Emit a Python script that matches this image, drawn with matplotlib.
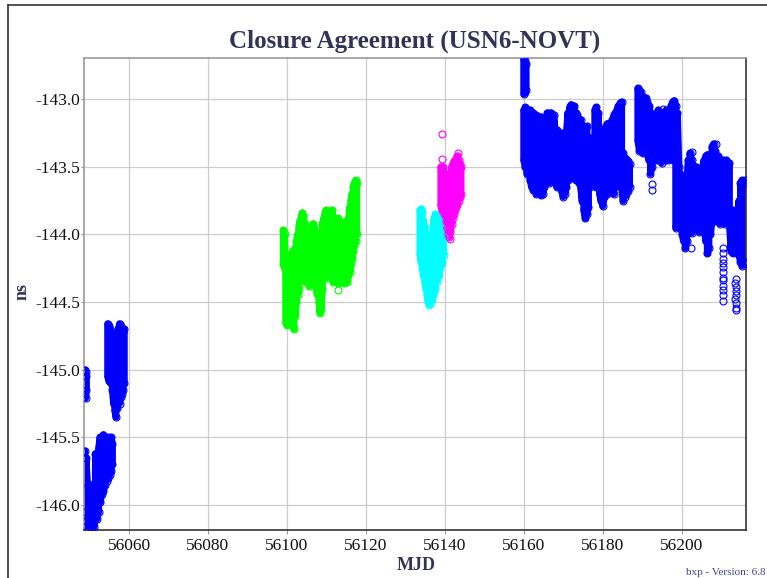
import matplotlib.pyplot as plt
from matplotlib.lines import Line2D

plt.rcParams['font.family'] = ['Liberation Serif', 'DejaVu Serif']
plt.rcParams['axes.unicode_minus'] = False

# ---- data (MJD, upper and lower edge of each daily swing, ns)

# blue, first days (left edge strip)
blue1a_mjd = [56048.8, 56049.0, 56049.2]
blue1a_top = [-145.00, -145.02, -145.05]
blue1a_bot = [-145.18, -145.21, -145.15]

# blue, first days (lower mass)
blue1b_mjd = [56048.8, 56049.1, 56049.5, 56049.9, 56050.3, 56050.7, 56051.1, 56051.5, 56051.9, 56052.3,
              56052.7, 56053.1, 56053.5, 56053.9, 56054.3, 56054.7, 56055.1, 56055.5, 56055.8]
blue1b_top = [-145.60, -145.65, -145.85, -145.90, -145.85, -145.95, -145.90, -145.62, -145.80, -145.58,
              -145.50, -145.52, -145.48, -145.50, -145.52, -145.50, -145.55, -145.50, -145.55]
blue1b_bot = [-146.05, -146.12, -146.18, -146.15, -146.18, -146.17, -146.16, -146.10, -146.10, -146.05,
              -145.98, -145.92, -145.90, -145.85, -145.82, -145.80, -145.78, -145.75, -145.70]

# blue, first days (upper mass)
blue1c_mjd = [56054.6, 56054.9, 56055.2, 56055.5, 56055.8, 56056.1, 56056.4, 56056.7, 56057.0, 56057.3,
              56057.6, 56057.9, 56058.2, 56058.5, 56058.8]
blue1c_top = [-144.66, -144.68, -144.70, -144.72, -144.80, -144.88, -144.92, -144.95, -144.85, -144.70,
              -144.66, -144.68, -144.70, -144.72, -144.70]
blue1c_bot = [-145.05, -145.08, -145.05, -145.10, -145.15, -145.25, -145.30, -145.35, -145.28, -145.22,
              -145.25, -145.20, -145.18, -145.15, -145.10]

# green
green_mjd = [56099.1, 56099.4, 56099.7, 56100.0, 56100.3, 56100.6, 56100.9, 56101.2, 56101.5, 56101.8,
             56102.1, 56102.4, 56102.7, 56103.0, 56103.3, 56103.6, 56103.9, 56104.2, 56104.5, 56104.8,
             56105.1, 56105.4, 56105.7, 56106.0, 56106.3, 56106.6, 56106.9, 56107.2, 56107.5, 56107.8,
             56108.1, 56108.4, 56108.7, 56109.0, 56109.3, 56109.6, 56109.9, 56110.2, 56110.5, 56110.8,
             56111.1, 56111.4, 56111.7, 56112.0, 56112.3, 56112.6, 56112.9, 56113.2, 56113.5, 56113.8,
             56114.1, 56114.4, 56114.7, 56115.0, 56115.3, 56115.6, 56115.9, 56116.2, 56116.5, 56116.8,
             56117.1, 56117.4, 56117.7]
green_top = [-143.97, -144.00, -144.30, -144.28, -144.25, -144.30, -144.20, -144.15, -144.12, -144.15,
             -144.10, -144.05, -144.00, -143.95, -143.90, -143.88, -143.84, -143.86, -143.92, -143.95,
             -143.98, -144.05, -144.10, -144.08, -143.95, -143.92, -143.95, -143.98, -144.00, -144.05,
             -144.10, -144.15, -144.10, -143.92, -143.88, -143.85, -143.82, -143.88, -143.90, -143.95,
             -143.85, -143.82, -143.90, -144.00, -143.95, -143.90, -143.88, -143.90, -143.95, -144.00,
             -143.95, -143.98, -143.92, -143.90, -143.95, -143.90, -143.80, -143.75, -143.70, -143.65,
             -143.62, -143.60, -143.62]
green_bot = [-144.22, -144.25, -144.65, -144.67, -144.60, -144.62, -144.55, -144.60, -144.68, -144.70,
             -144.60, -144.50, -144.45, -144.40, -144.35, -144.30, -144.25, -144.28, -144.30, -144.35,
             -144.32, -144.30, -144.38, -144.30, -144.28, -144.35, -144.32, -144.38, -144.42, -144.45,
             -144.50, -144.58, -144.55, -144.40, -144.30, -144.25, -144.30, -144.32, -144.28, -144.25,
             -144.30, -144.30, -144.35, -144.30, -144.32, -144.35, -144.36, -144.30, -144.35, -144.30,
             -144.35, -144.36, -144.30, -144.34, -144.35, -144.30, -144.28, -144.22, -144.18, -144.12,
             -144.08, -144.05, -144.00]
green_out_mjd = [56113.0]
green_out_ns = [-144.41]

# cyan
cyan_mjd = [56133.7, 56134.0, 56134.3, 56134.6, 56134.9, 56135.2, 56135.5, 56135.8, 56136.1, 56136.4,
            56136.7, 56137.0, 56137.3, 56137.6, 56137.9, 56138.2, 56138.5, 56138.8, 56139.1, 56139.4, 56139.7]
cyan_top = [-143.82, -143.81, -143.83, -143.90, -143.95, -144.00, -144.05, -144.10, -144.15, -144.10,
            -144.05, -143.95, -143.88, -143.85, -143.86, -143.88, -143.90, -143.92, -143.95, -144.00, -144.02]
cyan_bot = [-144.15, -144.20, -144.25, -144.30, -144.35, -144.40, -144.45, -144.50, -144.52, -144.50,
            -144.48, -144.45, -144.42, -144.40, -144.35, -144.30, -144.30, -144.25, -144.22, -144.20, -144.15]

# magenta
mag_mjd = [56139.0, 56139.3, 56139.6, 56139.9, 56140.2, 56140.5, 56140.8, 56141.1, 56141.4, 56141.7,
           56142.0, 56142.3, 56142.6, 56142.9, 56143.2, 56143.5, 56143.8, 56144.1]
mag_top = [-143.50, -143.52, -143.50, -143.55, -143.55, -143.58, -143.60, -143.60, -143.55, -143.50,
           -143.48, -143.46, -143.45, -143.44, -143.42, -143.45, -143.48, -143.50]
mag_bot = [-143.78, -143.82, -143.80, -143.85, -143.90, -143.95, -144.00, -144.02, -143.98, -143.92,
           -143.88, -143.85, -143.82, -143.80, -143.78, -143.75, -143.72, -143.70]
mag_out_mjd = [56139.4, 56139.4, 56143.4, 56141.3]
mag_out_ns = [-143.26, -143.44, -143.40, -144.03]

# blue, later days (short high column)
blue2a_mjd = [56160.0, 56160.3, 56160.6]
blue2a_top = [-142.70, -142.72, -142.74]
blue2a_bot = [-142.96, -142.95, -142.93]

# blue, later days (first block)
blue2b_mjd = [56160.0, 56160.4, 56160.8, 56161.2, 56161.6, 56162.0, 56162.4, 56162.8, 56163.2, 56163.6,
              56164.0, 56164.4, 56164.8, 56165.2, 56165.6, 56166.0, 56166.4, 56166.8, 56167.2, 56167.6,
              56168.0, 56168.4, 56168.8, 56169.2, 56169.6, 56170.0, 56170.4, 56170.8, 56171.2, 56171.6,
              56172.0, 56172.4, 56172.8, 56173.2, 56173.6, 56174.0, 56174.4, 56174.8, 56175.2, 56175.6,
              56176.0, 56176.4, 56176.8, 56177.2, 56177.6, 56178.0, 56178.4, 56178.8, 56179.2, 56179.6,
              56180.0, 56180.4, 56180.8, 56181.2, 56181.6, 56182.0, 56182.4, 56182.8, 56183.2, 56183.6,
              56184.0, 56184.4, 56184.8, 56185.2, 56185.6, 56186.0, 56186.4, 56186.8]
blue2b_top = [-143.08, -143.06, -143.10, -143.12, -143.08, -143.15, -143.10, -143.15, -143.12, -143.20,
              -143.14, -143.13, -143.20, -143.15, -143.22, -143.10, -143.12, -143.10, -143.15, -143.12,
              -143.25, -143.23, -143.28, -143.30, -143.25, -143.28, -143.30, -143.25, -143.10, -143.06,
              -143.04, -143.08, -143.05, -143.10, -143.12, -143.18, -143.15, -143.20, -143.22, -143.25,
              -143.20, -143.28, -143.30, -143.32, -143.30, -143.08, -143.06, -143.10, -143.30, -143.36,
              -143.38, -143.35, -143.20, -143.18, -143.22, -143.20, -143.15, -143.12, -143.10, -143.08,
              -143.05, -143.03, -143.02, -143.40, -143.45, -143.44, -143.46, -143.48]
blue2b_bot = [-143.45, -143.50, -143.55, -143.50, -143.60, -143.65, -143.67, -143.62, -143.70, -143.65,
              -143.68, -143.71, -143.70, -143.65, -143.60, -143.58, -143.62, -143.55, -143.60, -143.58,
              -143.62, -143.65, -143.60, -143.63, -143.68, -143.72, -143.70, -143.65, -143.60, -143.55,
              -143.58, -143.52, -143.55, -143.60, -143.55, -143.62, -143.65, -143.75, -143.82, -143.88,
              -143.85, -143.80, -143.65, -143.62, -143.60, -143.62, -143.65, -143.58, -143.70, -143.75,
              -143.79, -143.72, -143.68, -143.70, -143.65, -143.60, -143.62, -143.70, -143.65, -143.60,
              -143.58, -143.60, -143.65, -143.75, -143.72, -143.70, -143.68, -143.65]

# blue, later days (second block)
blue2c_mjd = [56188.9, 56189.3, 56189.7, 56190.1, 56190.5, 56190.9, 56191.3, 56191.7, 56192.1, 56192.5,
              56192.9, 56193.3, 56193.7, 56194.1, 56194.5, 56194.9, 56195.3, 56195.7, 56196.1, 56196.5,
              56196.9, 56197.3, 56197.7, 56198.1, 56198.5, 56198.9, 56199.3, 56199.7, 56200.1, 56200.5,
              56200.9, 56201.3, 56201.7, 56202.1, 56202.5, 56202.9, 56203.3, 56203.7, 56204.1, 56204.5,
              56204.9, 56205.3, 56205.7, 56206.1, 56206.5, 56206.9, 56207.3, 56207.7, 56208.1, 56208.5,
              56208.9, 56209.3, 56209.7, 56210.1, 56210.5, 56210.9, 56211.3, 56211.7, 56212.1, 56212.5,
              56212.9, 56213.3, 56213.7, 56214.1, 56214.5, 56214.9, 56215.3, 56215.7, 56216.1]
blue2c_top = [-142.92, -142.93, -142.95, -142.98, -143.00, -142.99, -143.02, -143.05, -143.10, -143.15,
              -143.20, -143.15, -143.10, -143.08, -143.10, -143.12, -143.10, -143.13, -143.08, -143.12,
              -143.10, -143.05, -143.02, -143.01, -143.05, -143.10, -143.50, -143.55, -143.60, -143.65,
              -143.70, -143.62, -143.45, -143.40, -143.45, -143.50, -143.55, -143.50, -143.58, -143.60,
              -143.55, -143.50, -143.45, -143.42, -143.41, -143.45, -143.50, -143.35, -143.33, -143.38,
              -143.45, -143.42, -143.45, -143.47, -143.45, -143.50, -143.45, -143.50, -143.47, -143.85,
              -143.82, -143.85, -143.88, -143.90, -143.75, -143.62, -143.60, -143.62, -143.60]
blue2c_bot = [-143.30, -143.38, -143.35, -143.40, -143.38, -143.35, -143.40, -143.45, -143.55, -143.50,
              -143.45, -143.40, -143.45, -143.42, -143.45, -143.47, -143.44, -143.45, -143.40, -143.45,
              -143.42, -143.40, -143.45, -143.45, -143.95, -143.92, -143.90, -143.95, -144.00, -144.05,
              -144.10, -144.05, -143.98, -143.95, -143.99, -143.95, -143.90, -143.95, -143.92, -143.98,
              -143.95, -143.90, -143.95, -144.05, -144.14, -144.10, -144.00, -143.90, -143.85, -143.90,
              -143.88, -143.90, -143.92, -143.88, -143.90, -143.92, -143.88, -143.90, -143.92, -144.12,
              -144.14, -144.10, -144.12, -144.14, -144.15, -144.20, -144.23, -144.20, -144.22]
blue_out_mjd = [56195.2, 56192.6, 56192.6, 56202.3, 56208.7, 56208.7, 56202.5, 56202.5,
                56210.4, 56210.5, 56210.4, 56210.5, 56210.6, 56210.5, 56210.4, 56210.5, 56210.6, 56210.5, 56210.4, 56210.5,
                56213.7, 56213.6, 56213.7, 56213.8, 56213.7, 56213.6, 56213.7, 56213.8, 56213.7]
blue_out_ns = [-143.07, -143.67, -143.63, -144.10, -143.33, -143.43, -143.39, -143.48,
               -144.10, -144.14, -144.18, -144.21, -144.24, -144.28, -144.32, -144.34, -144.38, -144.41, -144.45, -144.49,
               -144.33, -144.36, -144.39, -144.42, -144.45, -144.48, -144.51, -144.54, -144.56]

x_ticks = [56060, 56080, 56100, 56120, 56140, 56160, 56180, 56200]
y_ticks = [-146.0, -145.5, -145.0, -144.5, -144.0, -143.5, -143.0]

# ---- figure
fig = plt.figure(figsize=(7.67, 5.78), dpi=100)
ax = fig.add_axes([84 / 767, 48 / 578, 662 / 767, 472 / 578])


def zigzag(xs, tops, bots):
    # walk the swings down and up in turn
    vx, vy = [], []
    for i, (x, t, b) in enumerate(zip(xs, tops, bots)):
        vx += [x, x]
        vy += [t, b] if i % 2 == 0 else [b, t]
    return vx, vy


def draw(xs, tops, bots, color):
    vx, vy = zigzag(xs, tops, bots)
    ax.plot(vx, vy, color=color, lw=5, solid_joinstyle='round', solid_capstyle='round', zorder=2)
    ax.plot(vx, vy, 'o', ls='none', mfc='none', mec=color, ms=5, mew=0.8, zorder=3)


draw(blue1a_mjd, blue1a_top, blue1a_bot, '#0000ff')
draw(blue1b_mjd, blue1b_top, blue1b_bot, '#0000ff')
draw(blue1c_mjd, blue1c_top, blue1c_bot, '#0000ff')
draw(green_mjd, green_top, green_bot, '#00ff00')
draw(cyan_mjd, cyan_top, cyan_bot, '#00ffff')
draw(mag_mjd, mag_top, mag_bot, '#ff00ff')
draw(blue2a_mjd, blue2a_top, blue2a_bot, '#0000ff')
draw(blue2b_mjd, blue2b_top, blue2b_bot, '#0000ff')
draw(blue2c_mjd, blue2c_top, blue2c_bot, '#0000ff')

# loose points
ax.plot(green_out_mjd, green_out_ns, 'o', mfc='none', mec='#00ff00', ms=5, mew=0.8)
ax.plot(mag_out_mjd, mag_out_ns, 'o', mfc='none', mec='#ff00ff', ms=5, mew=0.8)
ax.plot(blue_out_mjd, blue_out_ns, 'o', mfc='none', mec='#0000ff', ms=5, mew=0.8)

# axes look
ax.set_xlim(56048.6, 56216.3)
ax.set_ylim(-146.185, -142.695)
ax.set_xticks(x_ticks)
ax.set_yticks(y_ticks)
ax.set_yticklabels(['%.1f' % v for v in y_ticks])
ax.grid(True, color='#cccccc', lw=0.9)
ax.set_axisbelow(True)
ax.tick_params(axis='x', length=3, pad=3, color='#999999', labelsize=12.5, labelcolor='#111111')
ax.tick_params(axis='y', length=2, pad=0.5, color='#999999', labelsize=12.5, labelcolor='#111111')
for side, col in [('top', '#999999'), ('left', '#999999'), ('right', '#333333'), ('bottom', '#333333')]:
    ax.spines[side].set_color(col)
    ax.spines[side].set_linewidth(1.2)

# texts
fig.text(415 / 767, 1 - 48 / 578, 'Closure Agreement (USN6-NOVT)', ha='center', va='baseline',
         fontsize=18, weight='bold', color='#333355')
fig.text(416 / 767, 1 - 570 / 578, 'MJD', ha='center', va='baseline', fontsize=13, weight='bold', color='#333355')
fig.text(22 / 767, 1 - 292 / 578, 'ns', rotation=90, ha='center', va='center', fontsize=13, weight='bold',
         color='#333355')
fig.text(765 / 767, 1 - 575 / 578, 'bxp - Version: 6.8', ha='right', va='baseline', fontsize=8, color='#444488')

# outer frame
fig.add_artist(Line2D([8 / 767, 8 / 767], [0, 1 - 5 / 578], color='#333333', lw=1.2))
fig.add_artist(Line2D([8 / 767, 1], [1 - 5 / 578, 1 - 5 / 578], color='#333333', lw=1.2))

fig.savefig('out.png', dpi=100)
